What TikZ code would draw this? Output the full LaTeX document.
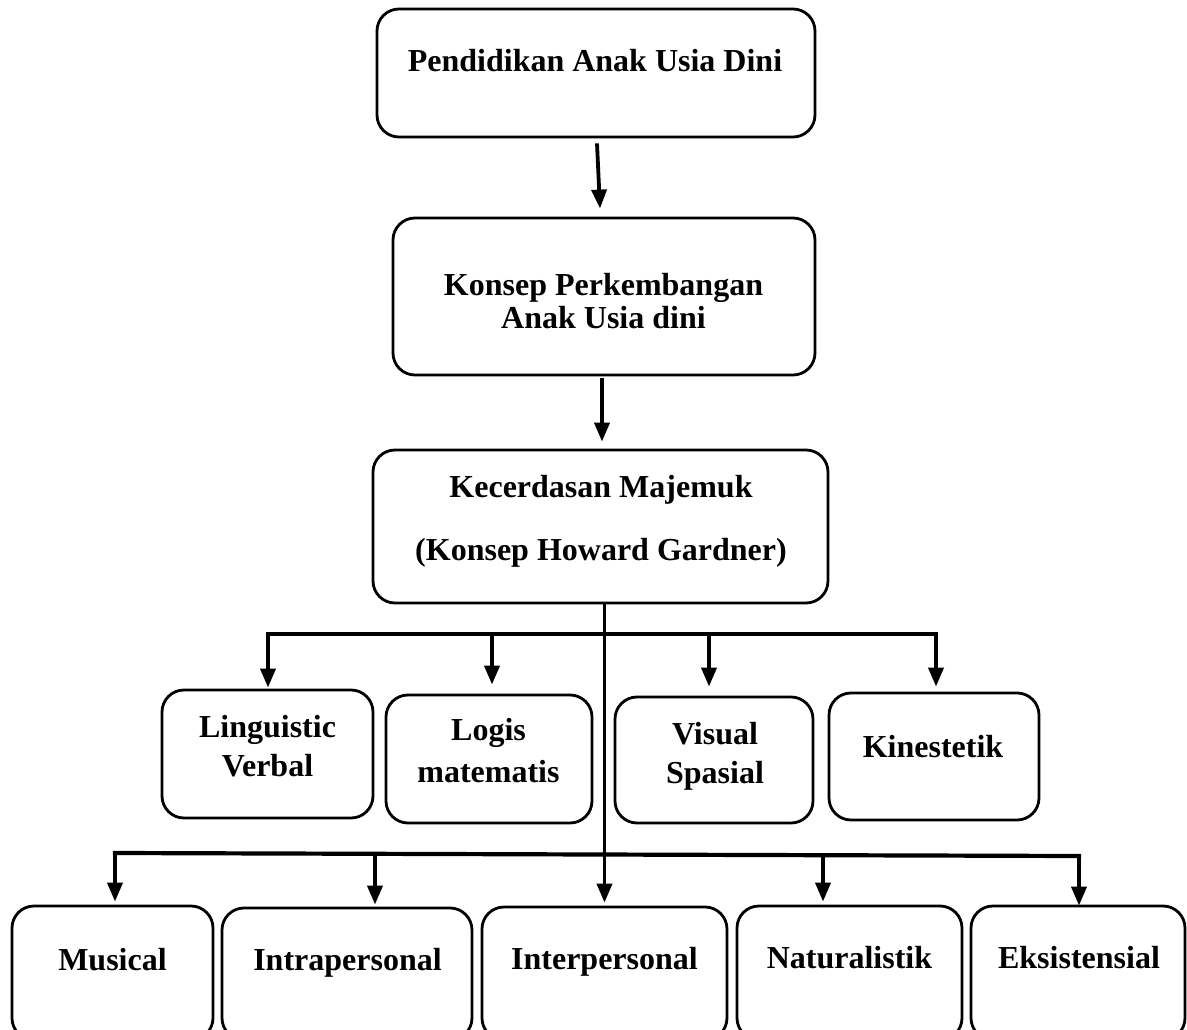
\documentclass[tikz,border=0pt]{standalone}
\usepackage{fontspec}
\setmainfont{Liberation Serif}
\usetikzlibrary{arrows.meta,calc}
\begin{document}
\begin{tikzpicture}[x=1pt,y=-1pt,
  box/.style={draw, line width=2.8pt, rounded corners=22pt, inner sep=0pt},
  lbl/.style={font=\fontsize{32}{38}\selectfont\bfseries, inner sep=0pt, anchor=base},
  conn/.style={line width=4.2pt, line cap=rect},
  arr/.style={line width=3.8pt, -{Triangle[width=15pt,length=19pt]}}]
\useasboundingbox (0,0) rectangle (1187,1030);
\clip (0,0) rectangle (1187,1030);

% main chain
\node[box, minimum width=438pt, minimum height=128pt] (b1) at (596,73) {};
\node[lbl] (t1) at (595,72) {Pendidikan Anak Usia Dini};

\node[box, minimum width=422pt, minimum height=157pt] (b2) at (604,296.5) {};
\node[lbl] (t2a) at (603.5,295) {Konsep Perkembangan};
\node[lbl] (t2b) at (603.5,328) {Anak Usia dini};

\node[box, minimum width=455pt, minimum height=153pt] (b3) at (600.5,526.5) {};
\node[lbl] (t3a) at (601,497) {Kecerdasan Majemuk};
\node[lbl] (t3b) at (601,560) {(Konsep Howard Gardner)};

% first row
\node[box, minimum width=211pt, minimum height=128pt] (r1) at (267.5,754) {};
\node[lbl] (r1a) at (267.5,737) {Linguistic};
\node[lbl] (r1b) at (267.5,776) {Verbal};

\node[box, minimum width=206pt, minimum height=128pt] (r2) at (489,759) {};
\node[lbl] (r2a) at (488.5,740) {Logis};
\node[lbl] (r2b) at (488.5,782) {matematis};

\node[box, minimum width=198pt, minimum height=126pt] (r3) at (714,760) {};
\node[lbl] (r3a) at (715,744) {Visual};
\node[lbl] (r3b) at (715,783) {Spasial};

\node[box, minimum width=210pt, minimum height=127pt] (r4) at (934,756.5) {};
\node[lbl] (r4a) at (933,757) {Kinestetik};

% second row
\node[box, minimum width=201pt, minimum height=134pt] (s1) at (112.5,973) {};
\node[lbl] (s1a) at (112.5,970) {Musical};

\node[box, minimum width=250pt, minimum height=132pt] (s2) at (347,974) {};
\node[lbl] (s2a) at (347.5,970) {Intrapersonal};

\node[box, minimum width=245pt, minimum height=133pt] (s3) at (604.5,973.5) {};
\node[lbl] (s3a) at (604.5,969) {Interpersonal};

\node[box, minimum width=225pt, minimum height=134pt] (s4) at (849.5,973) {};
\node[lbl] (s4a) at (849.5,968) {Naturalistik};

\node[box, minimum width=214pt, minimum height=134pt] (s5) at (1078,973) {};
\node[lbl] (s5a) at (1079,968) {Eksistensial};

% chain arrows
\draw[arr] ($(b1.south)+(1,5)$) -- ($(b2.north)+(-4,-8)$);
\draw[arr] ($(b2.south)+(-2,2)$) -- ($(b3.north)+(1.5,-7)$);

% trunk
\draw[arr] ($(b3.south)+(4,0)$) -- ($(s3.north)+(0,-3)$);

% bus 1
\coordinate (j1) at (268,634);
\coordinate (j2) at (492,634);
\coordinate (j3) at (709,634);
\coordinate (j4) at (936,634);
\draw[conn] (j1) -- (j4);
\draw[arr] (j1) -- ($(j1|-r1.north)+(0,-1)$);
\draw[arr] (j2) -- ($(j2|-r2.north)+(0,-9)$);
\draw[arr] (j3) -- ($(j3|-r3.north)+(0,-9)$);
\draw[arr] (j4) -- ($(j4|-r4.north)+(0,-5)$);

% bus 2
\coordinate (k1) at (115,853);
\coordinate (k2) at (375,853.8);
\coordinate (k4) at (823,855.2);
\coordinate (k5) at (1079,856);
\draw[conn] (k1) -- (k5);
\draw[arr] (k1) -- ($(k1|-s1.north)+(0,-3)$);
\draw[arr] (k2) -- ($(k2|-s2.north)+(0,-2)$);
\draw[arr] (k4) -- ($(k4|-s4.north)+(0,-3)$);
\draw[arr] (k5) -- ($(k5|-s5.north)+(0,1)$);
\end{tikzpicture}
\end{document}
